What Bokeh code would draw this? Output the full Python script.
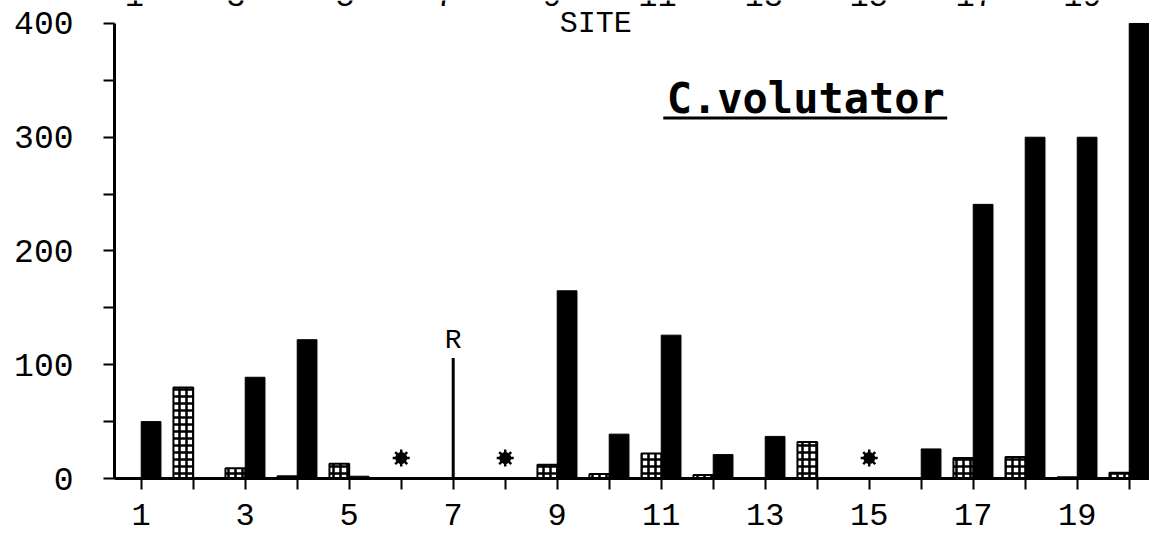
from bokeh.plotting import figure
from bokeh.models import FixedTicker, LinearAxis, ColumnDataSource, Range1d
from bokeh.core.properties import value
from bokeh.embed import file_html
from bokeh.resources import INLINE

# ---- data ----
sites = list(range(1, 21))
black_vals = [50, 0, 89, 122, 2, 0, 0, 0, 165, 39, 126, 21, 37, 0, 0, 26, 241, 300, 300, 400]
hatch_vals = [0, 80, 9, 2, 13, 0, 0, 0, 12, 4, 22, 3, 0, 32, 0, 0, 18, 19, 1, 5]
star_sites = [6, 8, 15]
star_level = [18, 18, 18]
r_site = [7]
r_value = [106]
y_ticks = [0, 100, 200, 300, 400]
y_minor = [50, 150, 250, 350]
x_label_sites = [1, 3, 5, 7, 9, 11, 13, 15, 17, 19]
# cut-off tick labels of the panel above (only their bottoms show)
top_labels = ["1", "3", "5", "7", "9", "11", "13", "15", "17", "19"]
top_label_x = [0.87, 2.82, 4.92, 6.84, 8.90, 10.93, 12.97, 14.99, 17.03, 19.10]

FONT = "Liberation Mono"
OFF = 0.19
BW = 0.38

p = figure(width=1149, height=540,
           x_range=Range1d(0.4865, 20.39), y_range=Range1d(0, 420.2),
           output_backend="svg", toolbar_location=None,
           x_axis_location=None, y_axis_location=None,
           min_border_left=114, min_border_right=0, min_border_top=0, min_border_bottom=62)
p.outline_line_color = None
p.xgrid.visible = False
p.ygrid.visible = False
p.background_fill_color = "white"

src = ColumnDataSource(dict(
    xb=[s + OFF for s in sites], yb=black_vals,
    xh=[s - OFF for s in sites], yh=hatch_vals))

p.vbar(x="xb", top="yb", bottom=0, width=BW, source=src,
       fill_color="black", line_color="black", line_width=1)
p.vbar(x="xh", top="yh", bottom=0, width=BW, source=src,
       fill_color="white", line_color="black", line_width=2,
       hatch_pattern="+", hatch_color="black", hatch_scale=7, hatch_weight=2.5)

# missing-sample stars
p.scatter(star_sites, star_level, marker="circle", size=11, fill_color="black", line_color="black")
p.scatter(star_sites, star_level, marker="asterisk", size=17, line_color="black", line_width=2.5)

# R line
p.segment(x0=r_site, y0=[0], x1=r_site, y1=r_value, line_color="black", line_width=3)
p.text(x=r_site, y=[r_value[0] + 15], text=["R"], text_font=value(FONT), text_font_size="28px",
       text_align="center", text_baseline="middle", text_color="black")

# top texts
p.text(x=top_label_x, y=[424.6] * len(top_labels), text=top_labels, text_font=value(FONT),
       text_font_size="32px", text_align="center", text_baseline="middle", text_color="black")
p.text(x=[9.74], y=[399.6], text=["SITE"], text_font=value(FONT), text_font_size="30px",
       text_align="center", text_baseline="middle", text_color="black")

# species title
p.text(x=[13.78], y=[334], text=["C.volutator"], text_font=value("DejaVu Sans Mono"),
       text_font_size="42px", text_font_style="bold",
       text_align="center", text_baseline="middle", text_color="black")
p.segment(x0=[11.04], y0=[317], x1=[16.5], y1=[317], line_color="black", line_width=3)

# axes
ya = LinearAxis(ticker=FixedTicker(ticks=y_ticks, minor_ticks=y_minor), bounds=(0, 400))
ya.axis_line_width = 3
ya.major_tick_out = 11
ya.major_tick_in = 0
ya.minor_tick_out = 11
ya.minor_tick_in = 0
ya.major_tick_line_width = 2
ya.minor_tick_line_width = 2
ya.major_label_standoff = 30
ya.major_label_text_font = FONT
ya.major_label_text_font_size = "33px"
ya.major_label_text_color = "black"
p.add_layout(ya, "left")

xa = LinearAxis(ticker=FixedTicker(ticks=sites))
xa.major_label_overrides = {s: (str(s) if s in x_label_sites else "") for s in sites}
xa.axis_line_width = 3
xa.major_tick_out = 11
xa.major_tick_in = 0
xa.minor_tick_out = 0
xa.major_tick_line_width = 2
xa.major_label_standoff = 14
xa.major_label_text_font = FONT
xa.major_label_text_font_size = "32px"
xa.major_label_text_color = "black"
p.add_layout(xa, "below")

open("out.html", "w").write(file_html(p, INLINE))
